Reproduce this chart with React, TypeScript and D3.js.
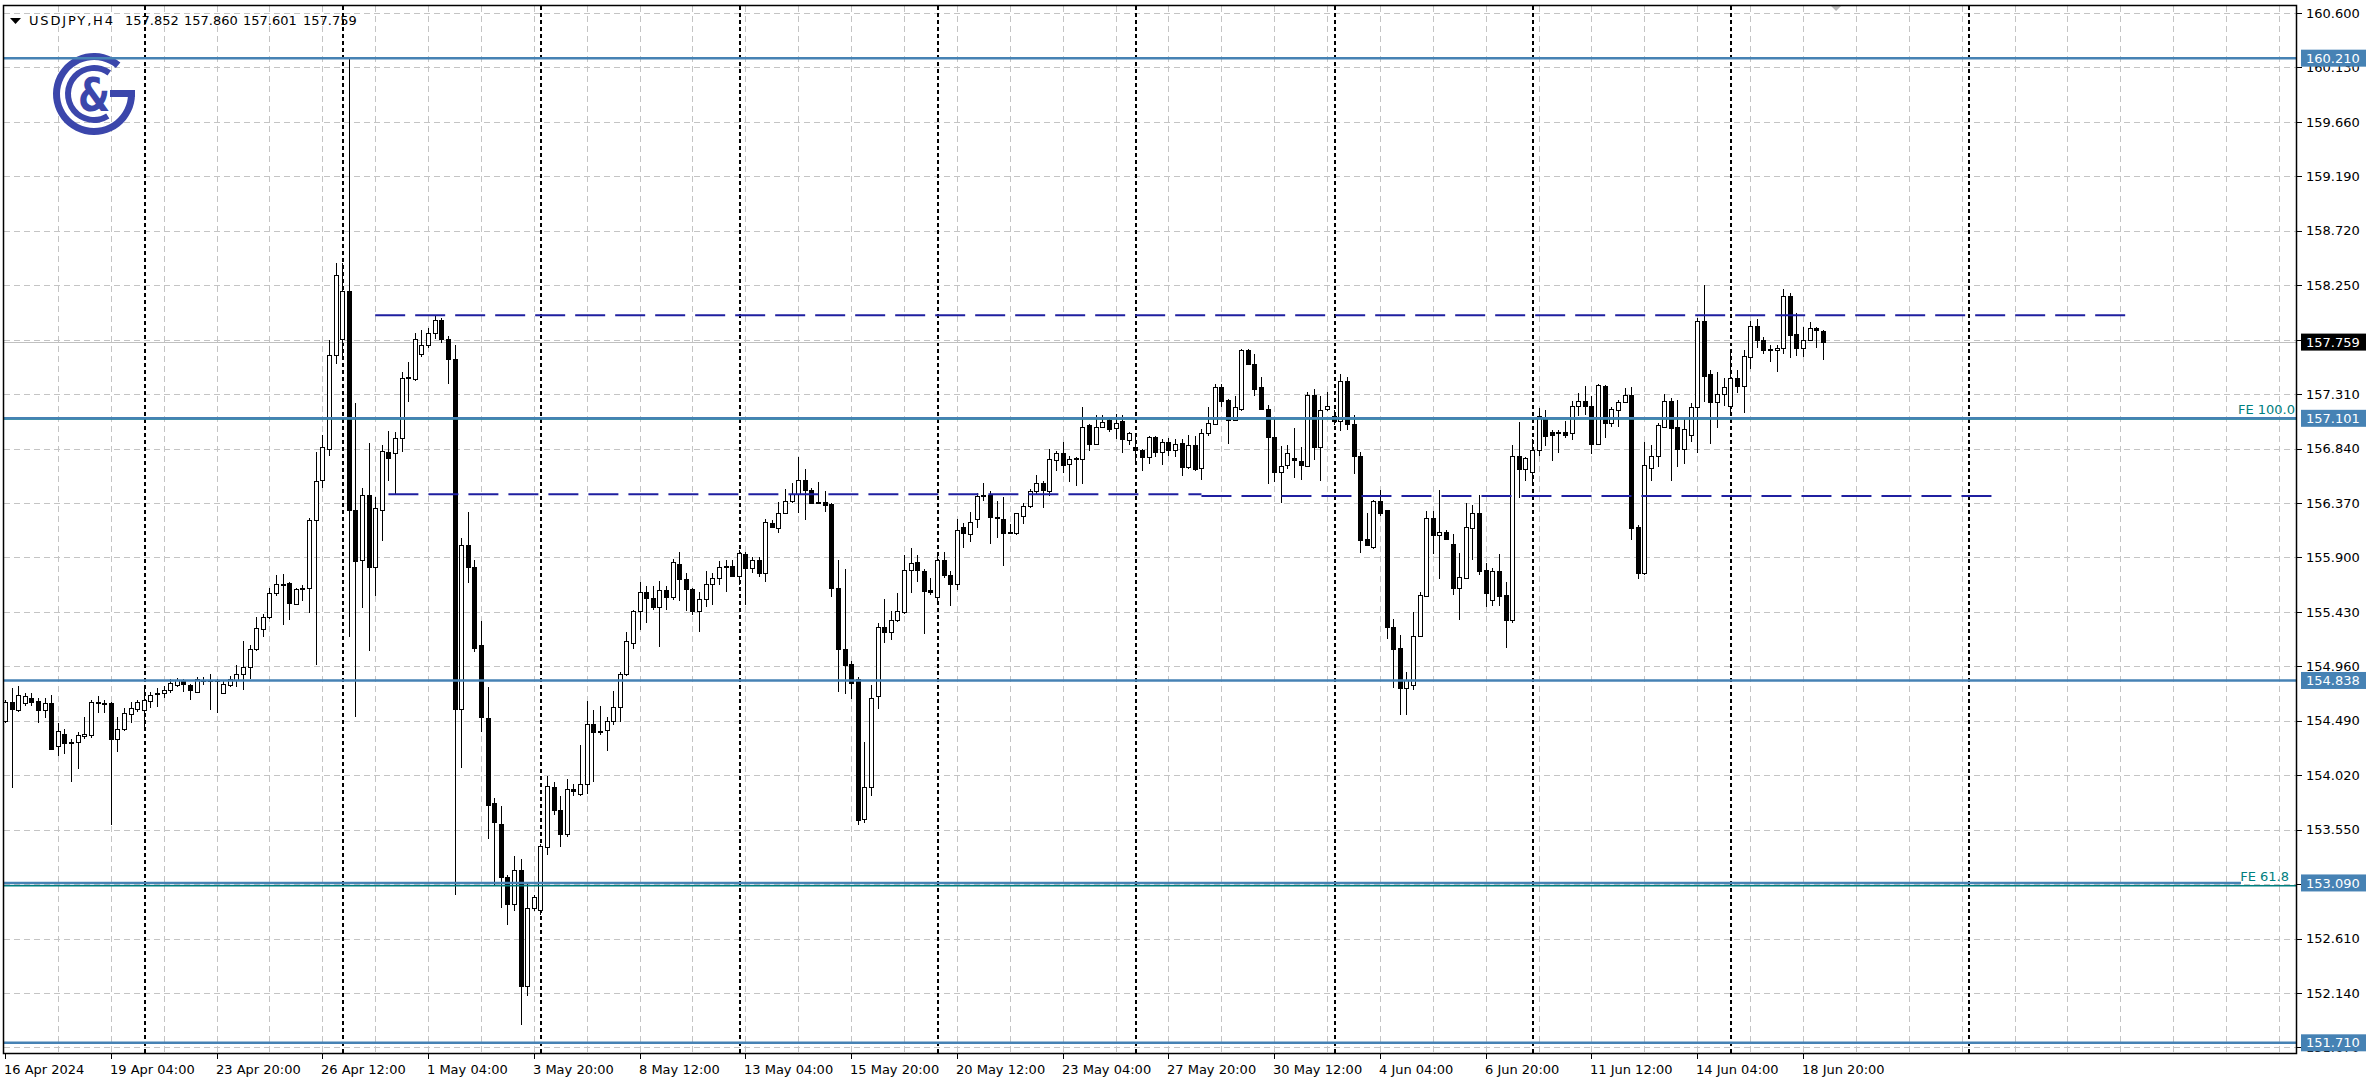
import * as d3 from 'd3'

// USDJPY H4, one value per bar, bar 0 = 16 Apr 2024 12:00
const opens = [
  154.49, 154.65, 154.58, 154.64, 154.69, 154.66, 154.58, 154.64, 154.27, 154.38,
  154.31, 154.31, 154.36, 154.37, 154.64, 154.64, 154.64, 154.33, 154.42, 154.55,
  154.59, 154.58, 154.66, 154.72, 154.73, 154.76, 154.80, 154.84, 154.80, 154.74,
  154.83, 154.84, 154.84, 154.73, 154.80, 154.84, 154.89, 154.95, 155.11, 155.28,
  155.39, 155.59, 155.67, 155.68, 155.50, 155.63, 155.64, 156.22, 156.57, 156.84,
  157.65, 157.79, 158.20, 156.31, 155.88, 156.44, 155.82, 156.31, 156.81, 156.80,
  156.93, 157.45, 157.44, 157.66, 157.73, 157.84, 157.95, 157.79, 157.61, 154.59,
  156.01, 155.82, 155.14, 154.51, 153.78, 153.60, 153.14, 152.91, 153.20, 152.20,
  152.87, 152.86, 153.40, 153.92, 153.72, 153.51, 153.90, 153.86, 153.94, 154.46,
  154.39, 154.41, 154.49, 154.61, 154.89, 155.16, 155.44, 155.60, 155.55, 155.47,
  155.62, 155.56, 155.84, 155.71, 155.63, 155.44, 155.54, 155.67, 155.72, 155.82,
  155.83, 155.74, 155.93, 155.81, 155.88, 155.77, 156.20, 156.15, 156.28, 156.39,
  156.45, 156.57, 156.48, 156.38, 156.38, 156.36, 155.64, 155.11, 154.98, 154.85,
  153.64, 153.92, 154.70, 155.30, 155.26, 155.36, 155.43, 155.79, 155.86, 155.78,
  155.62, 155.56, 155.88, 155.75, 155.67, 156.16, 156.10, 156.23, 156.43, 156.44,
  156.25, 156.23, 156.12, 156.11, 156.26, 156.34, 156.47, 156.54, 156.47, 156.74,
  156.80, 156.71, 156.75, 156.75, 157.04, 156.88, 157.03, 157.09, 157.02, 157.08,
  156.91, 156.85, 156.83, 156.77, 156.94, 156.81, 156.90, 156.83, 156.89, 156.68,
  156.87, 156.67, 156.97, 157.05, 157.37, 157.26, 157.09, 157.18, 157.69, 157.57,
  157.37, 157.18, 156.94, 156.64, 156.70, 156.76, 156.73, 156.69, 157.30, 156.85,
  157.18, 157.12, 157.08, 157.42, 157.05, 156.78, 156.06, 155.99, 156.39, 156.31,
  155.30, 155.12, 154.77, 154.80, 155.22, 155.57, 156.24, 156.09, 156.12, 156.02,
  155.64, 155.72, 156.15, 156.28, 155.79, 155.53, 155.78, 155.58, 155.36, 156.78,
  156.66, 156.64, 156.83, 157.11, 156.98, 156.98, 156.98, 156.97, 157.21, 157.25,
  157.21, 156.88, 157.38, 157.06, 157.17, 157.24, 157.30, 156.16, 155.77, 156.67,
  156.78, 157.03, 157.25, 157.03, 156.84, 156.96, 157.20, 157.94, 157.48, 157.24,
  157.31, 157.21, 157.45, 157.38, 157.63, 157.90, 157.78, 157.70, 157.69, 157.71,
  158.16, 157.83, 157.71, 157.78, 157.88, 157.852,
]
const highs = [
  154.67, 154.77, 154.79, 154.73, 154.73, 154.69, 154.69, 154.71, 154.47, 154.42,
  154.33, 154.39, 154.52, 154.67, 154.70, 154.67, 154.65, 154.52, 154.60, 154.65,
  154.67, 154.78, 154.74, 154.77, 154.79, 154.85, 154.86, 154.85, 154.81, 154.87,
  154.87, 154.89, 154.85, 154.83, 154.88, 154.97, 155.18, 155.14, 155.39, 155.41,
  155.64, 155.75, 155.76, 155.69, 155.64, 155.66, 156.24, 156.81, 156.96, 157.78,
  158.44, 158.44, 160.22, 157.23, 156.50, 156.89, 156.42, 156.87, 156.99, 156.98,
  157.50, 157.59, 157.84, 157.86, 157.88, 157.98, 157.97, 157.81, 157.73, 156.07,
  156.29, 155.88, 155.35, 154.78, 153.82, 153.75, 153.16, 153.32, 153.30, 153.10,
  152.99, 153.43, 154.01, 153.96, 153.84, 153.99, 153.94, 154.28, 154.66, 154.58,
  154.62, 154.52, 154.75, 154.91, 155.26, 155.45, 155.69, 155.65, 155.65, 155.70,
  155.65, 155.89, 155.95, 155.77, 155.64, 155.60, 155.78, 155.77, 155.87, 155.88,
  155.88, 155.96, 155.95, 155.90, 155.90, 156.23, 156.22, 156.38, 156.49, 156.54,
  156.77, 156.66, 156.50, 156.55, 156.47, 156.37, 155.88, 155.80, 155.01, 154.87,
  154.31, 154.80, 155.33, 155.54, 155.44, 155.59, 155.92, 155.98, 155.92, 155.80,
  155.72, 155.92, 155.95, 155.78, 156.23, 156.20, 156.29, 156.46, 156.54, 156.47,
  156.39, 156.42, 156.19, 156.28, 156.37, 156.49, 156.61, 156.56, 156.84, 156.82,
  156.90, 156.78, 156.77, 157.20, 157.05, 157.13, 157.13, 157.11, 157.14, 157.13,
  156.98, 156.97, 156.84, 156.95, 156.95, 156.92, 156.93, 156.92, 156.92, 156.96,
  156.95, 157.01, 157.20, 157.40, 157.40, 157.27, 157.29, 157.70, 157.70, 157.66,
  157.46, 157.22, 157.10, 156.86, 156.87, 157.02, 156.85, 157.33, 157.35, 157.29,
  157.33, 157.17, 157.48, 157.46, 157.13, 156.81, 156.28, 156.40, 156.48, 156.31,
  155.37, 155.23, 154.91, 155.43, 155.60, 156.30, 156.30, 156.48, 156.14, 156.10,
  155.94, 156.37, 156.35, 156.44, 155.85, 155.81, 155.93, 155.69, 156.87, 157.07,
  156.77, 156.92, 157.19, 157.17, 157.00, 157.00, 157.08, 157.25, 157.32, 157.38,
  157.29, 157.40, 157.39, 157.20, 157.26, 157.36, 157.37, 156.18, 156.90, 156.87,
  157.06, 157.31, 157.28, 157.26, 157.10, 157.23, 157.97, 158.25, 157.52, 157.50,
  157.45, 157.67, 157.52, 157.69, 157.94, 157.96, 157.80, 157.73, 157.73, 158.22,
  158.18, 158.01, 157.89, 157.93, 157.89, 157.860,
]
const lows = [
  154.47, 153.91, 154.57, 154.62, 154.62, 154.47, 154.51, 154.24, 154.19, 154.20,
  153.96, 154.07, 154.33, 154.34, 154.56, 154.56, 153.59, 154.22, 154.40, 154.47,
  154.57, 154.40, 154.60, 154.61, 154.69, 154.73, 154.78, 154.74, 154.67, 154.73,
  154.80, 154.58, 154.56, 154.72, 154.78, 154.78, 154.76, 154.85, 155.09, 155.21,
  155.37, 155.57, 155.32, 155.36, 155.49, 155.52, 155.42, 154.97, 156.50, 156.78,
  157.57, 157.64, 155.21, 154.52, 155.46, 155.09, 155.57, 156.04, 156.56, 156.45,
  156.81, 157.24, 157.42, 157.63, 157.71, 157.79, 157.75, 157.40, 152.99, 154.08,
  155.68, 155.08, 154.39, 153.47, 153.06, 152.87, 152.73, 152.85, 151.86, 152.11,
  152.85, 152.81, 153.33, 153.68, 153.40, 153.49, 153.84, 153.84, 153.86, 153.96,
  154.37, 154.23, 154.45, 154.48, 154.88, 155.11, 155.27, 155.33, 155.45, 155.13,
  155.45, 155.53, 155.52, 155.44, 155.40, 155.26, 155.47, 155.49, 155.66, 155.60,
  155.73, 155.66, 155.49, 155.77, 155.73, 155.69, 156.15, 156.11, 156.28, 156.37,
  156.28, 156.22, 156.36, 156.36, 156.29, 155.56, 154.74, 154.72, 154.68, 153.59,
  153.61, 153.84, 154.59, 155.16, 155.19, 155.34, 155.41, 155.59, 155.69, 155.24,
  155.58, 155.49, 155.72, 155.48, 155.62, 155.98, 156.03, 156.15, 156.39, 156.02,
  156.07, 155.83, 156.10, 156.09, 156.19, 156.33, 156.45, 156.33, 156.43, 156.65,
  156.63, 156.55, 156.52, 156.53, 156.82, 156.87, 157.02, 156.98, 156.92, 156.80,
  156.87, 156.70, 156.65, 156.71, 156.77, 156.70, 156.78, 156.77, 156.60, 156.66,
  156.65, 156.57, 156.95, 157.04, 157.20, 156.88, 157.08, 157.16, 157.56, 157.29,
  157.17, 156.53, 156.55, 156.37, 156.66, 156.59, 156.57, 156.68, 156.74, 156.56,
  157.16, 157.04, 156.99, 157.00, 156.62, 155.94, 156.00, 155.97, 156.26, 155.20,
  154.77, 154.54, 154.54, 154.76, 155.21, 155.56, 155.93, 155.71, 156.05, 155.58,
  155.36, 155.71, 155.88, 155.75, 155.47, 155.48, 155.48, 155.12, 155.33, 156.41,
  156.56, 156.54, 156.78, 156.86, 156.73, 156.80, 156.93, 156.91, 157.12, 157.13,
  156.79, 156.87, 156.93, 157.03, 157.03, 157.23, 156.05, 155.71, 155.75, 156.56,
  156.68, 157.03, 156.56, 156.68, 156.71, 156.90, 156.80, 157.24, 156.88, 157.02,
  157.21, 157.13, 157.32, 157.15, 157.53, 157.71, 157.66, 157.59, 157.50, 157.66,
  157.62, 157.64, 157.63, 157.78, 157.71, 157.601,
]
const closes = [
  154.65, 154.59, 154.71, 154.70, 154.65, 154.58, 154.64, 154.25, 154.40, 154.30,
  154.30, 154.37, 154.38, 154.65, 154.65, 154.64, 154.33, 154.42, 154.56, 154.60,
  154.65, 154.67, 154.71, 154.73, 154.76, 154.82, 154.84, 154.81, 154.76, 154.85,
  154.84, 154.83, 154.83, 154.81, 154.85, 154.89, 154.95, 155.11, 155.29, 155.39,
  155.59, 155.67, 155.66, 155.51, 155.63, 155.64, 156.22, 156.56, 156.85, 157.65,
  158.34, 158.20, 156.31, 155.87, 156.44, 155.82, 156.33, 156.82, 156.76, 156.93,
  157.45, 157.46, 157.79, 157.73, 157.84, 157.95, 157.79, 157.61, 154.59, 156.01,
  155.82, 155.12, 154.52, 153.76, 153.62, 153.14, 152.91, 153.20, 152.20, 152.87,
  152.97, 153.41, 153.93, 153.72, 153.51, 153.90, 153.88, 153.94, 154.46, 154.39,
  154.40, 154.49, 154.61, 154.89, 155.18, 155.44, 155.60, 155.55, 155.47, 155.62,
  155.56, 155.86, 155.71, 155.63, 155.44, 155.54, 155.67, 155.72, 155.82, 155.83,
  155.74, 155.94, 155.81, 155.88, 155.77, 156.21, 156.16, 156.28, 156.39, 156.45,
  156.57, 156.48, 156.37, 156.37, 156.35, 155.64, 155.11, 154.97, 154.82, 153.63,
  153.92, 154.69, 155.30, 155.26, 155.36, 155.44, 155.79, 155.85, 155.79, 155.61,
  155.60, 155.88, 155.75, 155.67, 156.14, 156.11, 156.21, 156.43, 156.44, 156.25,
  156.24, 156.11, 156.11, 156.28, 156.34, 156.47, 156.54, 156.48, 156.75, 156.80,
  156.70, 156.75, 156.76, 157.03, 156.88, 157.03, 157.07, 157.01, 157.06, 156.92,
  156.97, 156.83, 156.77, 156.94, 156.81, 156.90, 156.83, 156.88, 156.68, 156.87,
  156.66, 156.97, 157.06, 157.37, 157.25, 157.09, 157.20, 157.69, 157.57, 157.35,
  157.18, 156.94, 156.64, 156.69, 156.80, 156.74, 156.70, 157.30, 156.85, 157.17,
  157.21, 157.08, 157.42, 157.05, 156.78, 156.05, 156.01, 156.39, 156.28, 155.30,
  155.11, 154.77, 154.84, 155.22, 155.58, 156.24, 156.09, 156.12, 156.06, 155.64,
  155.73, 156.16, 156.28, 155.78, 155.59, 155.78, 155.57, 155.36, 156.78, 156.66,
  156.76, 156.83, 157.12, 156.95, 156.96, 156.97, 156.96, 157.21, 157.25, 157.21,
  156.88, 157.39, 157.06, 157.18, 157.24, 157.30, 156.15, 155.77, 156.70, 156.78,
  157.04, 157.25, 157.02, 156.84, 157.01, 157.20, 157.94, 157.47, 157.24, 157.31,
  157.37, 157.45, 157.38, 157.64, 157.90, 157.78, 157.69, 157.69, 157.71, 158.16,
  157.82, 157.71, 157.78, 157.88, 157.86, 157.759,
]

// one label every 16 bars
const timeLabels = [
  '16 Apr 2024', '19 Apr 04:00', '23 Apr 20:00', '26 Apr 12:00', '1 May 04:00', '3 May 20:00',
  '8 May 12:00', '13 May 04:00', '15 May 20:00', '20 May 12:00', '23 May 04:00', '27 May 20:00',
  '30 May 12:00', '4 Jun 04:00', '6 Jun 20:00', '11 Jun 12:00', '14 Jun 04:00', '18 Jun 20:00',
]
const priceTicks = [
  160.6, 160.13, 159.66, 159.19, 158.72, 158.25, 157.78, 157.31, 156.84, 156.37,
  155.9, 155.43, 154.96, 154.49, 154.02, 153.55, 153.08, 152.61, 152.14, 151.67,
]
const levelLines = [160.21, 157.101, 154.838, 153.09, 151.71]
const feLevels = [
  { name: 'FE 100.0', price: 157.095 },
  { name: 'FE 61.8', price: 153.065 },
]
const dashedLevels = [
  { price: 157.99, from: 56, to: 322 },
  { price: 156.445, from: 58, to: 181 },
  { price: 156.43, from: 181, to: 302 },
]
const weekStarts = [21, 51, 81, 111, 141, 171, 201, 231, 261, 297]
const symbol = 'USDJPY,H4'

const W = 2372
const H = 1089
const plotL = 4
const plotR = 2296
const plotT = 6
const plotB = 1053
const font = 'DejaVu Sans'
const blue = '#4682B4'
const teal = '#008080'
const navy = '#1f1fa0'

function Logo() {
  const arc = d3.arc()
  const outer = arc({ innerRadius: 34, outerRadius: 41, startAngle: Math.PI / 2, endAngle: (400 * Math.PI) / 180 } as any)
  const inner = arc({ innerRadius: 23, outerRadius: 29, startAngle: (148 * Math.PI) / 180, endAngle: (396 * Math.PI) / 180 } as any)
  return (
    <g transform="translate(94,94)" fill="#3b46ab">
      <path d={outer || ''} />
      <path d={inner || ''} />
      <rect x={16} y={-4} width={25} height={7} />
      <text x={0} y={17} transform="scale(0.8,1)" textAnchor="middle" fontFamily={font} fontWeight="bold" fontSize={46}>&amp;</text>
    </g>
  )
}

export default function App() {
  const x = d3.scaleLinear().domain([0, 272]).range([5, 1803])
  const y = d3.scaleLinear().domain([152.14, 160.6]).range([993, 13])
  const last = opens.length - 1
  const bid = closes[last]
  const header = [opens[last], highs[last], lows[last], closes[last]]
  const headerX = [125, 184, 243, 303]
  const gridBars = d3.range(8, 345, 8)
  const px = (v: number) => Math.round(v) + 0.5
  const fmt = d3.format('.3f')

  return (
    <div style={{ position: 'fixed', left: 0, top: 0, width: W, height: H, background: '#fff' }}>
      <svg width={W} height={H} style={{ display: 'block' }}>
        <rect x={0} y={0} width={W} height={H} fill="#fff" />

        {/* grid */}
        <g stroke="#c4c4c4" strokeDasharray="6,4" shapeRendering="crispEdges">
          {priceTicks.map(p => (
            <line key={p} x1={plotL} x2={plotR} y1={px(y(p))} y2={px(y(p))} />
          ))}
          {gridBars.map(b => (
            <line key={b} x1={px(x(b))} x2={px(x(b))} y1={plotT} y2={plotB} />
          ))}
        </g>

        {/* weekly separators */}
        <g stroke="#000" strokeWidth={2} strokeDasharray="4,3" shapeRendering="crispEdges">
          {weekStarts.map(b => (
            <line key={b} x1={Math.round(x(b)) + 1} x2={Math.round(x(b)) + 1} y1={plotT} y2={plotB} />
          ))}
        </g>

        {/* bid line */}
        <line x1={plotL} x2={plotR} y1={px(y(bid))} y2={px(y(bid))} stroke="#c0c0c0" shapeRendering="crispEdges" />

        <Logo />

        {/* candles */}
        <g shapeRendering="crispEdges">
          {opens.map((o, i) => {
            const c = closes[i]
            const cx = px(x(i))
            const yTop = px(y(Math.max(o, c)))
            const yBot = px(y(Math.min(o, c)))
            return (
              <g key={i}>
                <line x1={cx} x2={cx} y1={Math.round(y(highs[i]))} y2={Math.round(y(lows[i]))} stroke="#000" />
                <rect x={cx - 2} y={yTop} width={4} height={Math.max(yBot - yTop, 1)}
                  fill={c >= o ? '#fff' : '#000'} stroke="#000" strokeWidth={1} />
              </g>
            )
          })}
        </g>

        {/* fibo expansion levels */}
        {feLevels.map(f => (
          <g key={f.name}>
            <line x1={plotL} x2={plotR} y1={y(f.price)} y2={y(f.price)} stroke={teal} strokeWidth={1.5} />
            <text x={f.name === 'FE 100.0' ? 2295 : 2289} y={y(f.price) - 5} textAnchor="end"
              fontFamily={font} fontSize={13} fill={teal}>{f.name}</text>
          </g>
        ))}

        {/* horizontal levels */}
        {levelLines.map(p => (
          <line key={p} x1={plotL} x2={p === 153.09 ? 2241 : plotR} y1={y(p)} y2={y(p)} stroke={blue} strokeWidth={2.5} />
        ))}

        {/* dashed levels */}
        {dashedLevels.map((d, i) => (
          <line key={i} x1={x(d.from)} x2={x(d.to)} y1={y(d.price)} y2={y(d.price)}
            stroke={navy} strokeWidth={2} strokeDasharray="30,10" />
        ))}

        {/* chart shift marker */}
        <polygon points={`${x(277) - 5},${plotT} ${x(277) + 5},${plotT} ${x(277)},${plotT + 5}`} fill="#b8b8b8" />

        {/* frame */}
        <rect x={plotL - 0.5} y={plotT - 0.5} width={plotR - plotL + 1} height={plotB - plotT + 1}
          fill="none" stroke="#000" strokeWidth={1.5} />

        {/* price axis */}
        <g fontFamily={font} fontSize={13} fill="#000">
          {priceTicks.map(p => (
            <g key={p}>
              <line x1={plotR} x2={plotR + 6} y1={px(y(p))} y2={px(y(p))} stroke="#000" />
              <text x={2306} y={y(p)} dy="0.36em">{fmt(p)}</text>
            </g>
          ))}
          {levelLines.map(p => (
            <g key={p}>
              <rect x={2301} y={y(p) - 8.5} width={65} height={17} fill={blue} />
              <text x={2306} y={y(p)} dy="0.36em" fill="#fff">{fmt(p)}</text>
            </g>
          ))}
          <rect x={2301} y={y(bid) - 8.5} width={65} height={17} fill="#000" />
          <text x={2306} y={y(bid)} dy="0.36em" fill="#fff">{fmt(bid)}</text>
        </g>

        {/* time axis */}
        <g fontFamily={font} fontSize={13} fill="#000">
          {timeLabels.map((t, k) => (
            <g key={t}>
              <line x1={px(x(k * 16))} x2={px(x(k * 16))} y1={plotB} y2={plotB + 6} stroke="#000" />
              <text x={Math.round(x(k * 16)) - 1} y={1074}>{t}</text>
            </g>
          ))}
        </g>

        {/* header */}
        <polygon points="10,18 21,18 15.5,24" fill="#000" />
        <g fontFamily={font} fontSize={13} fill="#000">
          <text x={29} y={25} textLength={84} lengthAdjust="spacing">{symbol}</text>
          {header.map((v, i) => (
            <text key={i} x={headerX[i]} y={25}>{fmt(v)}</text>
          ))}
        </g>
      </svg>
    </div>
  )
}
